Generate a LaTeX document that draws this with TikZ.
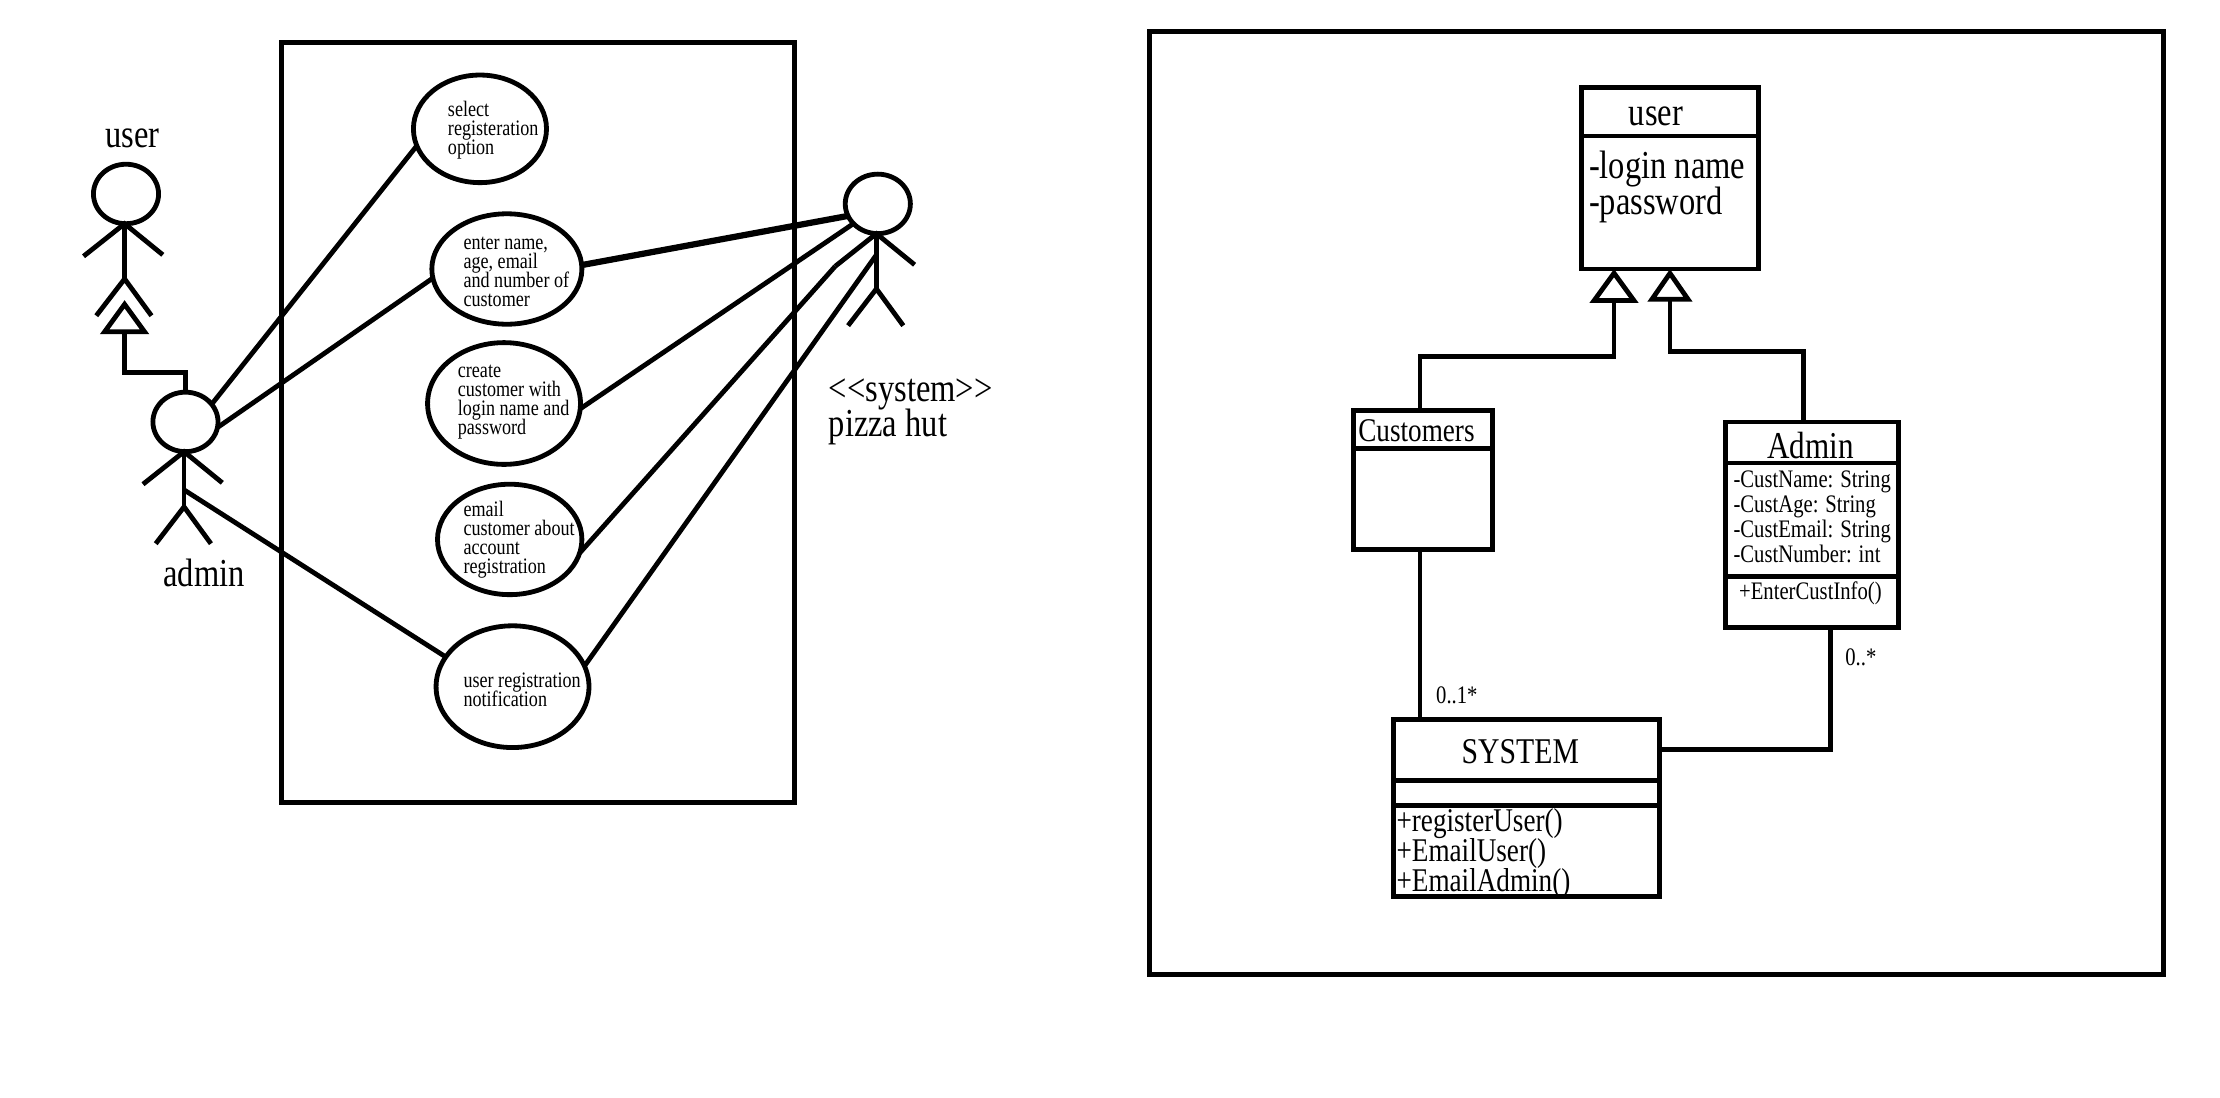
\documentclass[tikz,border=0pt]{standalone}
\usepackage{fontspec}
\setmainfont[FakeStretch=0.82]{Liberation Serif}
\setlength{\lineskiplimit}{-20pt}
\usetikzlibrary{calc, positioning, arrows.meta, shapes.geometric}
\tikzset{
    umlline/.style={line width=1.7pt},
    frame/.style={rectangle, draw=black, line width=1.8pt, inner sep=0pt, outer sep=0pt},
    usecase/.style={ellipse, draw=black, line width=1.7pt, inner sep=0pt, outer sep=0pt},
    actorhead/.style={ellipse, draw=black, line width=1.7pt, inner sep=0pt, outer sep=0pt, minimum width=23pt, minimum height=21pt},
    compart/.style={rectangle, draw=black, line width=1.7pt, inner sep=0pt, outer sep=0pt},
    txt/.style={anchor=west, align=left, inner sep=0pt},
    bigtxt/.style={txt, font=\fontsize{14}{12.5}\selectfont},
    midtxt/.style={txt, font=\fontsize{11.7}{10.5}\selectfont},
    smalltxt/.style={txt, font=\fontsize{7.8}{6.7}\selectfont},
    attrtxt/.style={txt, font=\fontsize{8.9}{8.8}\selectfont},
    genTip/.tip={Triangle[open, fill=white, length=12pt, width=17pt]},
    stickman/.pic={
        \node[actorhead] (-head) at (0,0) {};
        \coordinate (-neck) at (-1,21);
        \coordinate (-hip) at (-1,60);
        \coordinate (-larm) at (-30,44);
        \coordinate (-rarm) at (26,43);
        \coordinate (-lleg) at (-21,86);
        \coordinate (-rleg) at (18,86);
        \draw[umlline] (-neck) -- (-hip);
        \draw[umlline] (-larm) -- (-neck) -- (-rarm);
        \draw[umlline] (-lleg) -- (-hip) -- (-rleg);
    }
}

\begin{document}
\begin{tikzpicture}[x=0.5pt, y=-0.5pt]
    \useasboundingbox (0,0) rectangle (1568,775.5);

    % Use case frame
    \node[frame, minimum width=181pt, minimum height=268.5pt] (caseFrame) at (380,298.5) {};

    % Use cases
    \node[usecase, minimum width=47pt, minimum height=38pt] (uc1) at (339,91) {};
    \node[usecase, minimum width=53pt, minimum height=39pt] (uc2) at (358,190) {};
    \node[usecase, minimum width=54pt, minimum height=43pt] (uc3) at (356,285) {};
    \node[usecase, minimum width=51pt, minimum height=39pt] (uc4) at (360,381) {};
    \node[usecase, minimum width=54pt, minimum height=43pt] (uc5) at (362,485) {};
    \node[smalltxt] (uc1txt) at (316,92) {select\\registeration\\option};
    \node[smalltxt] (uc2txt) at (327,192) {enter name,\\age, email\\and number of\\customer};
    \node[smalltxt] (uc3txt) at (323,284) {create\\customer with\\login name and\\password};
    \node[smalltxt] (uc4txt) at (327,381) {email\\customer about\\account\\registration};
    \node[smalltxt] (uc5txt) at (327,487) {user registration\\notification};

    % Actors
    \pic (user) at (89,137) {stickman};
    \pic (admin) at (131,298) {stickman};
    \pic (sys) at (620,144) {stickman};
    \node[bigtxt] (userLabel) at (74,98) {user};
    \node[bigtxt] (adminLabel) at (115,405) {admin};
    \node[bigtxt] (sysLabel) at (585,291) {<{}<system>{}>\\pizza hut};

    % Actor links
    \draw[umlline, -genTip] (admin-head.north) -- ++(0,-14) -| ([yshift=-7.5pt]user-hip);
    \draw[umlline] (admin-head.34) -- (uc1.195);
    \draw[umlline] (admin-head.-10) -- (uc2.187);
    \draw[umlline] ([yshift=-13.5pt]admin-neck) -- (uc5.156);
    \draw[line width=2.2pt] (uc2.3) -- (sys-head.202);
    \draw[umlline] (uc3.-4) -- (sys-head.219);
    \draw[umlline] (uc4.-11) -- (sys-larm);
    \draw[umlline] (uc5.16) -- ([yshift=-7.5pt]sys-neck);

    % Class frame
    \node[frame, minimum width=358pt, minimum height=333pt] (classFrame) at (1170,355) {};

    % user class
    \node[compart, minimum width=62.5pt, minimum height=17pt] (userHead) at (1179.5,79) {};
    \node[compart, minimum width=62.5pt, minimum height=47pt] (userBody) at (1179.5,143) {};
    \node[bigtxt] (userName) at (1150,82) {user};
    \node[bigtxt] (userAttr) at (1122,132) {-login name\\-password};

    % Customers class
    \node[compart, minimum width=49pt, minimum height=13.5pt] (custHead) at (1005,303.5) {};
    \node[compart, minimum width=49pt, minimum height=35.5pt] (custBody) at (1005,352.5) {};
    \node[midtxt] (custName) at (959,304) {Customers};

    % Admin class
    \node[compart, minimum width=61pt, minimum height=14.5pt] (adminHead) at (1280,312.5) {};
    \node[compart, minimum width=61pt, minimum height=40pt] (adminBody) at (1280,367) {};
    \node[compart, minimum width=61pt, minimum height=18pt] (adminOps) at (1280,425) {};
    \node[txt, font=\fontsize{13.4}{13}\selectfont] (adminName) at (1248,315) {Admin};
    \node[attrtxt] (adminAttr) at (1224,365) {-CustName: String\\-CustAge: String\\-CustEmail: String\\-CustNumber: int};
    \node[attrtxt] (adminOp) at (1228,419) {+EnterCustInfo()};

    % SYSTEM class
    \node[compart, minimum width=94pt, minimum height=21.5pt] (sysHead) at (1078,529.5) {};
    \node[compart, minimum width=94pt, minimum height=9pt] (sysBody) at (1078,560) {};
    \node[compart, minimum width=94pt, minimum height=32pt] (sysOps) at (1078,601) {};
    \node[txt, font=\fontsize{12.8}{13}\selectfont] (sysName) at (1032,531) {SYSTEM};
    \node[midtxt] (sysOp) at (986,603) {+registerUser()\\+EmailUser()\\+EmailAdmin()};

    % Class links
    \draw[umlline, -genTip] ([xshift=-1pt]custHead.north) -- ++(0,-38) -| ([xshift=-19.75pt]userBody.south);
    \draw[umlline, -{Triangle[open, fill=white, length=11.5pt, width=15.5pt]}] ([xshift=-3pt]adminHead.north) -- ++(0,-50) -| (userBody.south);
    \draw[umlline] ([xshift=-1pt]custBody.south) -- ([xshift=-1pt]custBody.south |- sysHead.north);
    \draw[umlline] (sysHead.east) -| ([xshift=6.5pt]adminOps.south);
    \node[attrtxt] (custMult) at (1014,491) {0..1*};
    \node[attrtxt] (adminMult) at (1303,464) {0..*};
\end{tikzpicture}
\end{document}
